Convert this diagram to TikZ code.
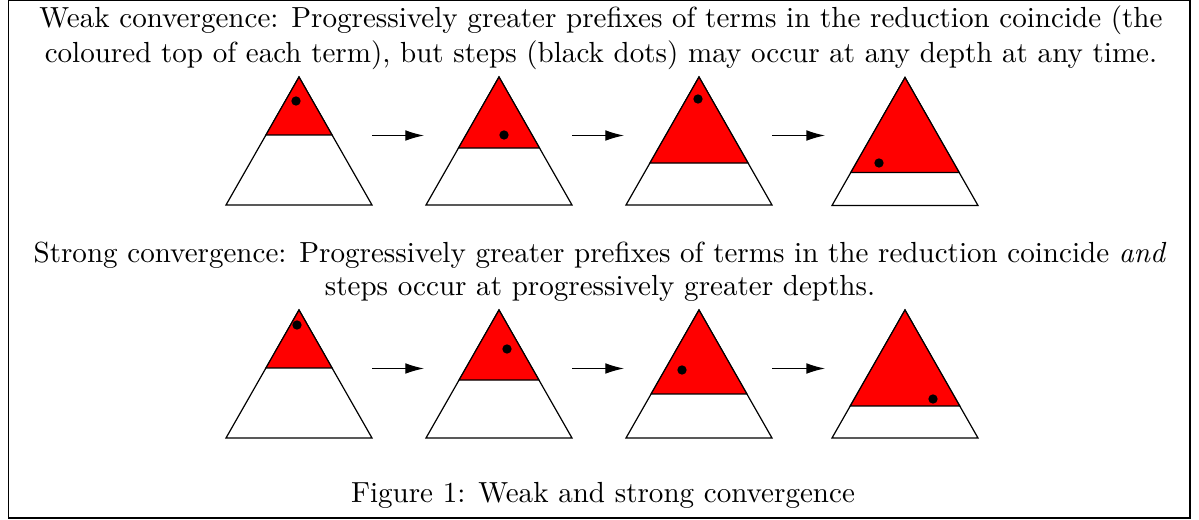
\documentclass[tikz,border=0pt]{standalone}
\usetikzlibrary{arrows.meta, calc}

\tikzset{
  termshape/.style={draw=black, line width=0.45pt, fill=white},
  topshape/.style={draw=black, line width=0.45pt, fill=red},
  redex/.style={fill=black},
  reduces/.style={-{Latex[length=7pt, width=4pt]}, line width=0.45pt},
  textline/.style={anchor=base, inner sep=0pt, font=\fontsize{10.9pt}{13pt}\selectfont},
}

% #1 name, #2 #3 apex, #4 depth of prefix, #5 #6 position of step
\newcommand{\term}[6]{%
  \coordinate (#1-top) at (#2,#3);
  \coordinate (#1-l) at ($(#1-top)+(-73,128)$);
  \coordinate (#1-r) at ($(#1-top)+(73,128)$);
  \coordinate (#1-w) at ($(#1-top)+(-73,58.5)$);
  \coordinate (#1-e) at ($(#1-top)+(73,58.5)$);
  \coordinate (#1-cl) at ($(#1-top)!#4!(#1-l)$);
  \coordinate (#1-cr) at ($(#1-top)!#4!(#1-r)$);
  \draw[termshape] (#1-top) -- (#1-l) -- (#1-r) -- cycle;
  \draw[topshape] (#1-top) -- (#1-cl) -- (#1-cr) -- cycle;
  \fill[redex] (#5,#6) circle[radius=1.75pt];
}

\begin{document}
\begin{tikzpicture}[x=0.375pt, y=-0.375pt]
  \useasboundingbox (0,0) rectangle (1199,520);
  \draw[line width=0.4pt] (8.5,0.5) rectangle (1190,518);

  % weak convergence
  \node[textline] (weak1) at (601,28) {Weak convergence: Progressively greater prefixes of terms in the reduction coincide (the};
  \node[textline] (weak2) at (601,63) {coloured top of each term), but steps (black dots) may occur at any depth at any time.};
  \term{w1}{299}{77}{0.453}{296}{101}
  \term{w2}{499}{77}{0.555}{504}{135}
  \term{w3}{699}{77}{0.672}{698}{99}
  \term{w4}{905}{77.5}{0.742}{879}{163}
  \draw[reduces, shorten >=0.75pt] (w1-e) -- (w2-w);
  \draw[reduces, shorten >=0.75pt] (w2-e) -- (w3-w);
  \draw[reduces, shorten >=2.6pt] (w3-e) -- (w3-e -| w4-w);

  % strong convergence
  \node[textline] (strong1) at (600,263) {Strong convergence: Progressively greater prefixes of terms in the reduction coincide \emph{and}};
  \node[textline] (strong2) at (600,296) {steps occur at progressively greater depths.};
  \term{s1}{299}{310}{0.453}{297}{325}
  \term{s2}{499}{310}{0.547}{507}{349}
  \term{s3}{699}{310}{0.656}{682}{370}
  \term{s4}{905}{310}{0.75}{933}{399}
  \draw[reduces, shorten >=0.75pt] (s1-e) -- (s2-w);
  \draw[reduces, shorten >=0.75pt] (s2-e) -- (s3-w);
  \draw[reduces, shorten >=2.6pt] (s3-e) -- (s4-w);

  \node[textline] (fig) at (603,503) {Figure 1: Weak and strong convergence};
\end{tikzpicture}
\end{document}
